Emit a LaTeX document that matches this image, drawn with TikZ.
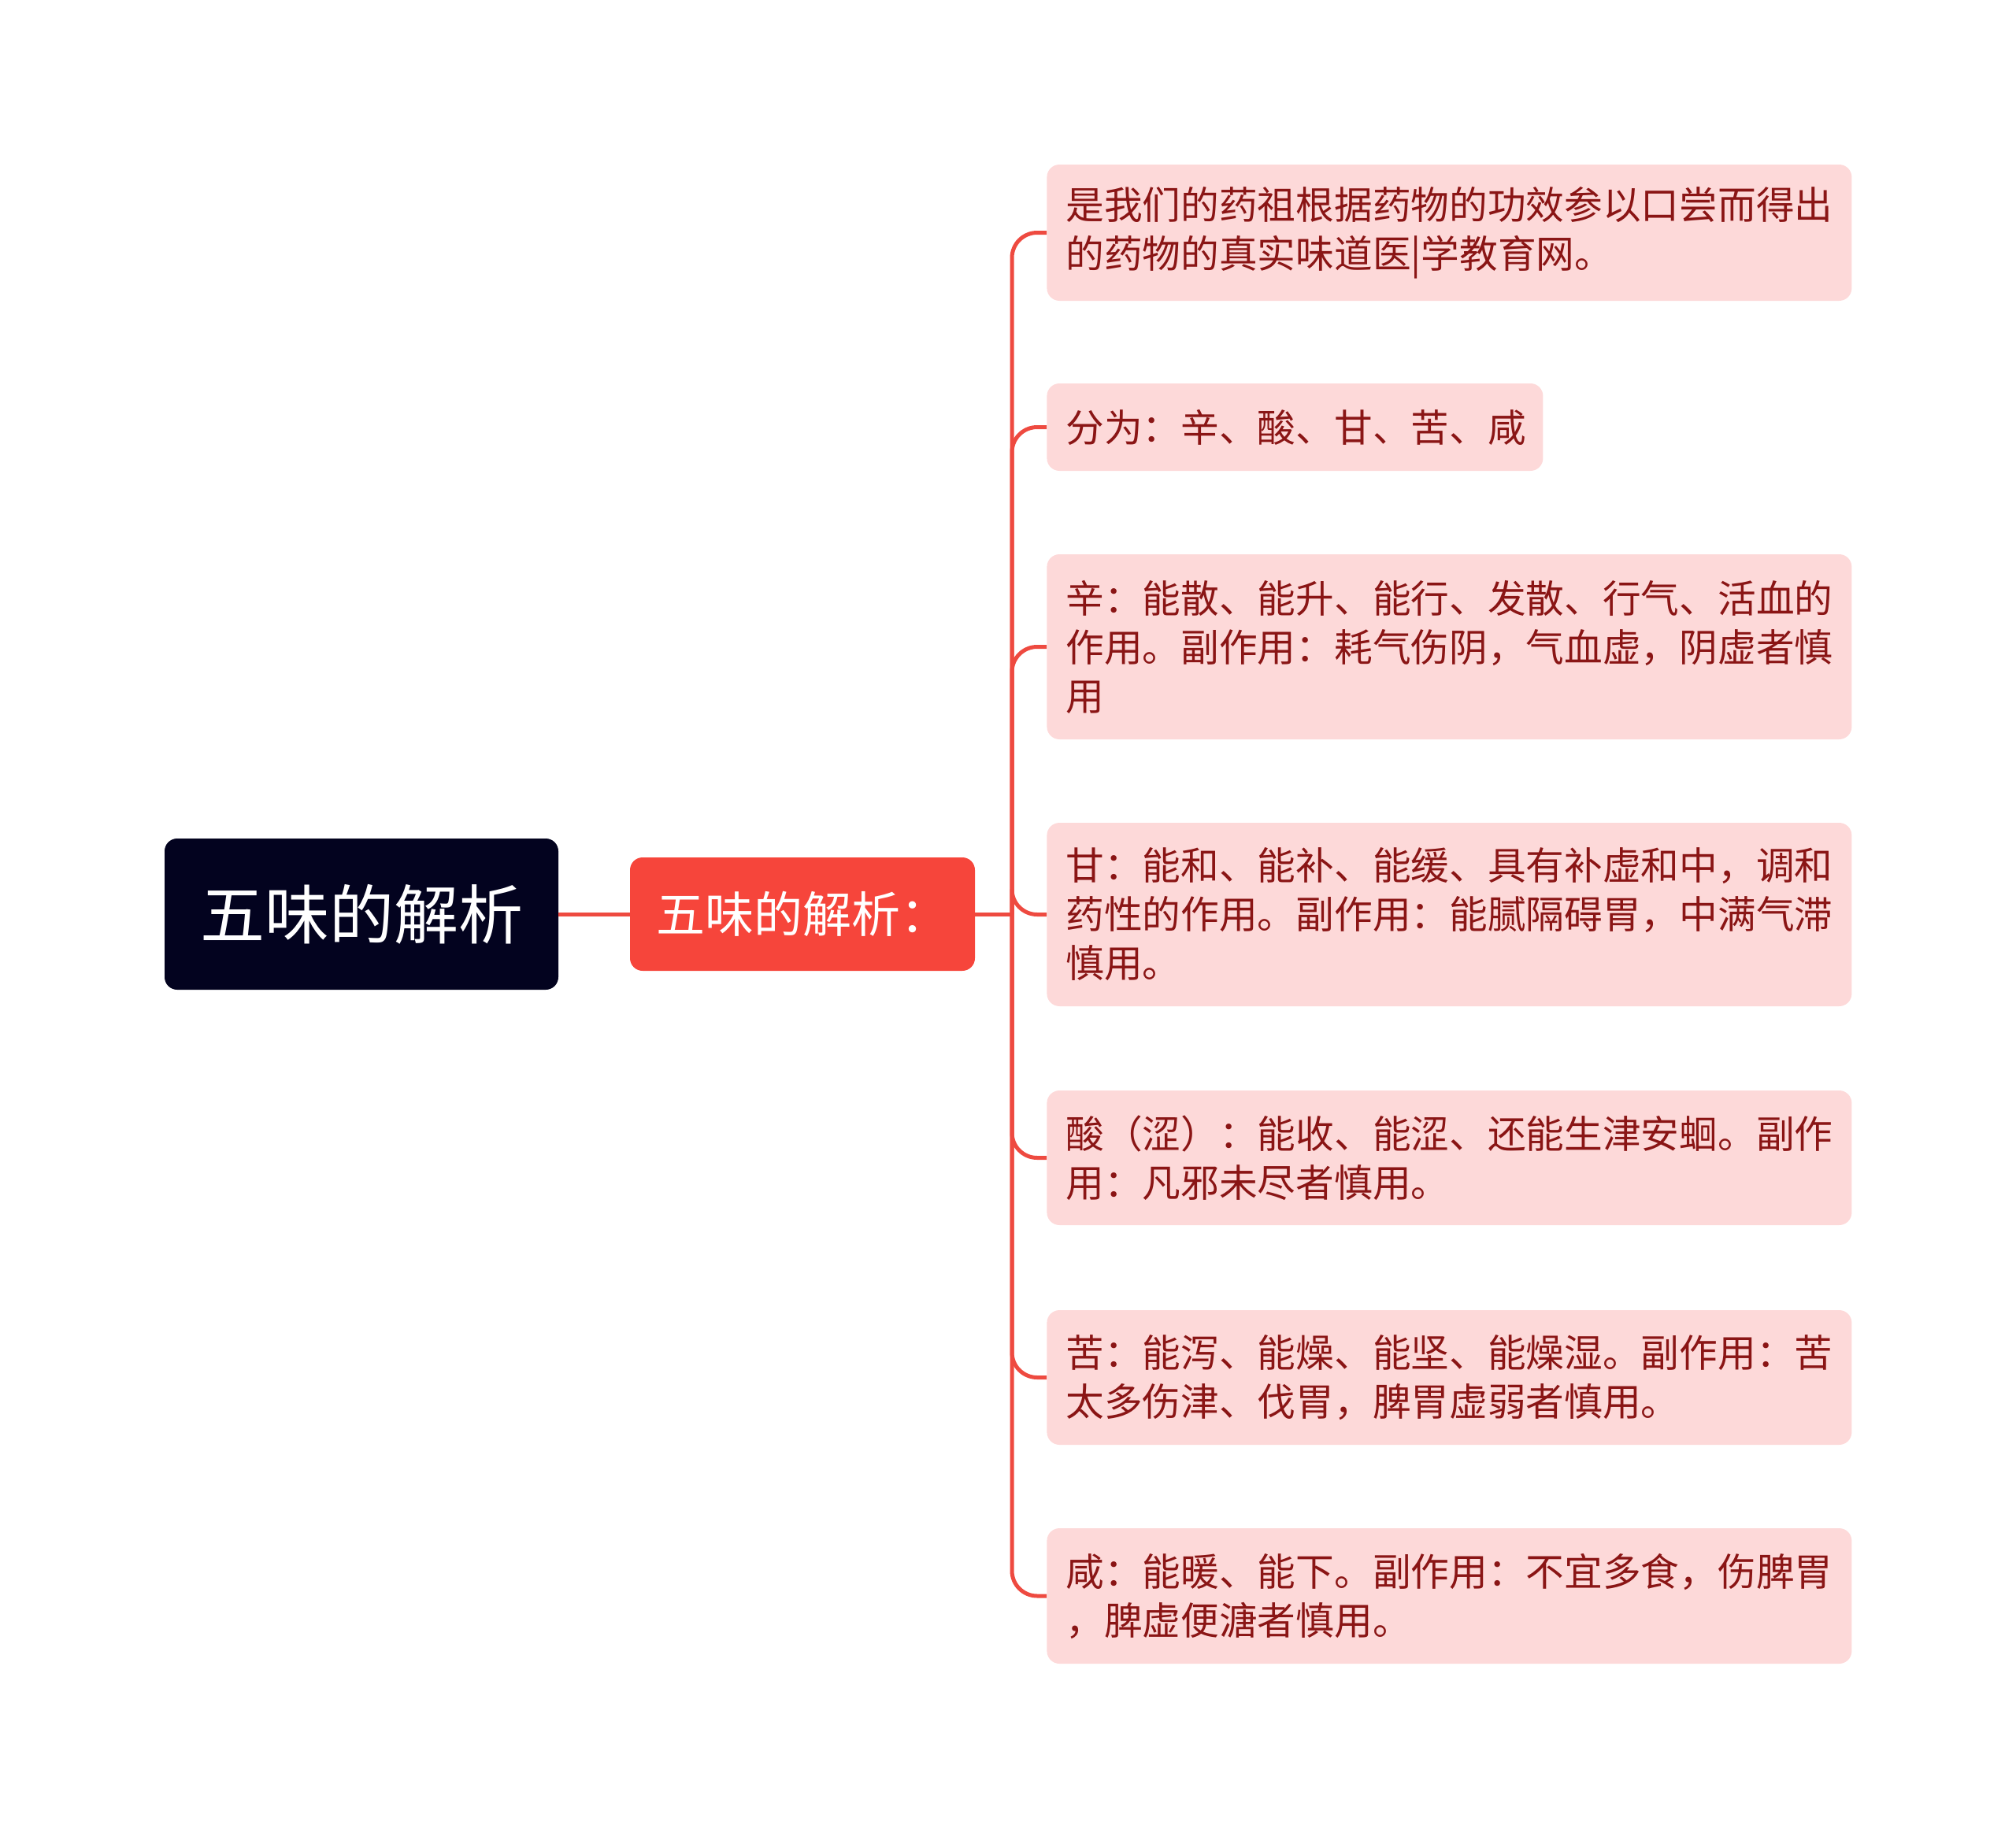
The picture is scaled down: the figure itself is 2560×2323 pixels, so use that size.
\documentclass[tikz,border=0pt]{standalone}
\usepackage{fontspec}
\newfontfamily\cjk{Noto Sans CJK SC}
\definecolor{rootfill}{HTML}{03031F}
\definecolor{midfill}{HTML}{F6453B}
\definecolor{linkc}{HTML}{EE4A40}
\definecolor{leaffill}{HTML}{FDD9D9}
\definecolor{leaftext}{HTML}{8A1515}
\tikzset{
  rootbox/.style={fill=rootfill, rounded corners=8pt, minimum width=250pt, minimum height=96pt,
    text=white, font=\cjk\fontsize{41pt}{50pt}\selectfont, inner sep=0pt},
  midbox/.style={fill=midfill, rounded corners=8pt, minimum width=219pt, minimum height=72pt,
    text=white, font=\cjk\fontsize{31pt}{38pt}\selectfont, inner sep=0pt},
  leafbox/.style={fill=leaffill, rounded corners=8pt, anchor=west, align=left,
    text=leaftext, font=\cjk\fontsize{24.35pt}{31pt}\selectfont, inner xsep=12pt, inner ysep=0pt},
  wideleaf/.style={leafbox, text width=487pt},
  link/.style={draw=linkc, line width=2.5pt},
  branch/.style={link, rounded corners=16pt},
}
\begin{document}
\begin{tikzpicture}[x=0.5pt, y=-0.5pt]
\useasboundingbox (0,0) rectangle (2560,2323);
\node[rootbox] (root) at (459,1161) {五味的解析};
\node[midbox] (mid) at (1019,1161) {五味的解析：};
\coordinate (trunk) at (1285,1161);

\node[wideleaf, minimum height=86.5pt] (l1) at (1329,295.5) {是我们的药祖根据药物的功效参以口尝而得出\\的药物的真实味道医|学教育网。};
\node[leafbox, text width=291pt, minimum height=55.5pt] (l2) at (1329,542.5) {分为：辛、酸、甘、苦、咸};
\node[wideleaf, minimum height=117.5pt] (l3) at (1329,821.5) {辛：能散、能升、能行、发散、行气、活血的\\作用。副作用：耗气伤阴，气血虚，阴虚者慎\\用};
\node[wideleaf, minimum height=116.5pt] (l4) at (1329,1161.5) {甘：能和、能补、能缓、具有补虚和中，调和\\药性的作用。副作用：能腻隔碍胃，中满气滞\\慎用。};
\node[wideleaf, minimum height=85.5pt] (l5) at (1329,1470.5) {酸（涩）：能收、能涩、还能生津安蛔。副作\\用：凡邪未尽者慎用。};
\node[wideleaf, minimum height=85.5pt] (l6) at (1329,1749.5) {苦：能泻、能燥、能坚、能燥湿。副作用：苦\\太多伤津、伐胃，脾胃虚弱者慎用。};
\node[wideleaf, minimum height=86pt] (l7) at (1329,2027) {咸：能暖、能下。副作用：不宜多食，伤脾胃\\，脾虚便溏者慎用。};

\draw[link] (root.east) -- (mid.west);
\draw[link] (mid.east) -- (trunk);
\foreach \l in {l1,l2,l3,l4,l5,l6,l7}{
  \draw[branch] (trunk) |- (\l.west);
}
\end{tikzpicture}
\end{document}
